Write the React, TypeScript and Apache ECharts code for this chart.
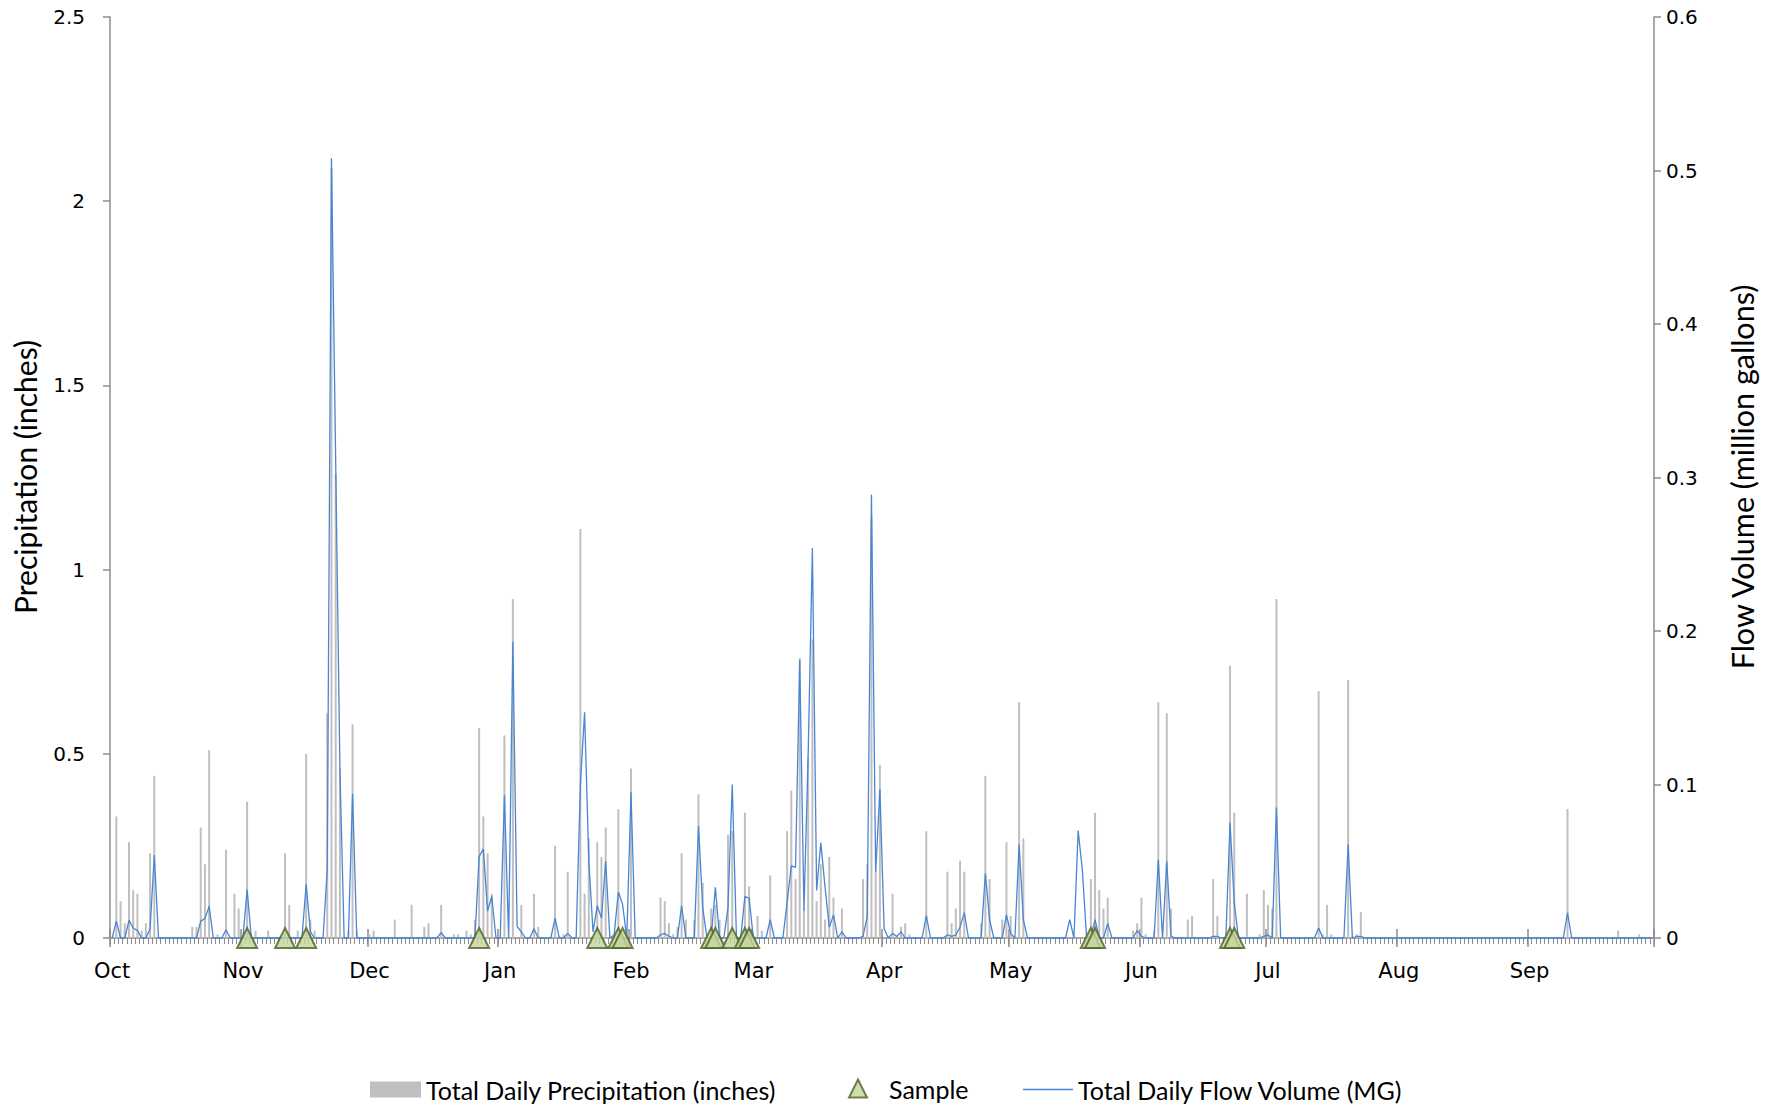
import React, { useEffect, useRef } from "react";
import * as echarts from "echarts";

// Water year, Oct 1 through Sep 30 (leap year: Feb has 29 days)
const MONTHS = ["Oct", "Nov", "Dec", "Jan", "Feb", "Mar", "Apr", "May", "Jun", "Jul", "Aug", "Sep"];
const MONTH_DAYS = [31, 30, 31, 31, 29, 31, 30, 31, 30, 31, 31, 30];

// Total daily precipitation (inches), one value per day of each month
const octPrecip = [0, 0.33, 0.10, 0.04, 0.26, 0.13, 0.12, 0.02, 0.04, 0.23, 0.44, 0, 0, 0, 0, 0, 0, 0, 0, 0.03, 0.03, 0.30, 0.20, 0.51, 0, 0.01, 0, 0.24, 0, 0.12, 0.08];
const novPrecip = [0, 0.37, 0, 0.02, 0, 0, 0.02, 0, 0, 0, 0.23, 0.09, 0, 0.02, 0, 0.50, 0.05, 0.02, 0, 0, 0.61, 2.09, 1.26, 0.46, 0, 0.02, 0.58, 0.02, 0, 0];
const decPrecip = [0.01, 0.02, 0, 0, 0, 0, 0.05, 0, 0, 0, 0.09, 0, 0, 0.03, 0.04, 0, 0, 0.09, 0, 0, 0.01, 0.01, 0, 0.02, 0.01, 0.05, 0.57, 0.33, 0.23, 0.12, 0];
const janPrecip = [0, 0.55, 0, 0.92, 0, 0.09, 0, 0, 0.12, 0.03, 0, 0, 0, 0.25, 0, 0.01, 0.18, 0, 0, 1.11, 0.12, 0.27, 0, 0.26, 0.22, 0.30, 0, 0, 0.35, 0, 0];
const febPrecip = [0.46, 0, 0, 0, 0, 0, 0, 0.11, 0.10, 0.04, 0.01, 0.03, 0.23, 0.05, 0, 0.05, 0.39, 0.15, 0, 0.08, 0.09, 0.05, 0, 0.28, 0.29, 0, 0, 0.34, 0.14];
const marPrecip = [0, 0.06, 0.02, 0, 0.17, 0, 0, 0, 0.29, 0.40, 0.16, 0.76, 0.08, 0.49, 0.81, 0.10, 0.20, 0.05, 0.22, 0.11, 0, 0.08, 0, 0, 0, 0, 0.16, 0.20, 1.14, 0.18, 0.47];
const aprPrecip = [0, 0, 0.12, 0, 0.03, 0.04, 0.01, 0, 0, 0, 0.29, 0, 0, 0, 0, 0.18, 0.04, 0.08, 0.21, 0.18, 0, 0, 0, 0.04, 0.44, 0.16, 0, 0, 0.05, 0.26];
const mayPrecip = [0.06, 0, 0.64, 0.27, 0, 0, 0, 0, 0, 0, 0, 0, 0, 0, 0, 0, 0, 0, 0, 0.16, 0.34, 0.13, 0.08, 0.11, 0, 0, 0, 0, 0, 0.02, 0.04];
const junPrecip = [0.11, 0.01, 0, 0.02, 0.64, 0, 0.61, 0.08, 0, 0, 0, 0.05, 0.06, 0, 0, 0, 0, 0.16, 0.06, 0, 0, 0.74, 0.34, 0, 0, 0.12, 0, 0, 0.01, 0.13];
const julPrecip = [0.09, 0.08, 0.92, 0, 0, 0, 0, 0, 0, 0, 0, 0, 0.67, 0.01, 0.09, 0.01, 0, 0, 0, 0.70, 0, 0.01, 0.07, 0, 0, 0, 0, 0, 0, 0, 0];
const augPrecip = [0, 0, 0, 0, 0, 0, 0, 0, 0, 0, 0, 0, 0, 0, 0, 0, 0, 0, 0, 0, 0, 0, 0, 0, 0, 0, 0, 0, 0, 0, 0];
const sepPrecip = [0, 0, 0, 0, 0, 0, 0, 0, 0, 0.35, 0, 0, 0, 0, 0, 0, 0, 0, 0, 0, 0, 0.02, 0, 0, 0, 0, 0.01, 0, 0, 0];

// Total daily flow volume (million gallons)
const octFlow = [0, 0.011, 0, 0, 0.0115, 0.0065, 0.0048, 0, 0, 0.006, 0.054, 0, 0, 0, 0, 0, 0, 0, 0, 0, 0, 0.011, 0.0126, 0.0206, 0, 0, 0, 0.0054, 0, 0, 0];
const novFlow = [0, 0.0315, 0, 0, 0, 0, 0, 0, 0, 0, 0, 0, 0, 0, 0, 0.035, 0.004, 0, 0, 0, 0.045, 0.508, 0.31, 0.11, 0, 0, 0.094, 0, 0, 0];
const decFlow = [0, 0, 0, 0, 0, 0, 0, 0, 0, 0, 0, 0, 0, 0, 0, 0, 0, 0.0035, 0, 0, 0, 0, 0, 0, 0, 0, 0.053, 0.058, 0.0175, 0.027, 0];
const janFlow = [0, 0.093, 0, 0.193, 0.0075, 0.004, 0, 0, 0.006, 0, 0, 0, 0, 0.013, 0, 0, 0.003, 0, 0, 0.10, 0.147, 0.05, 0.004, 0.021, 0.013, 0.05, 0, 0.002, 0.030, 0.022, 0];
const febFlow = [0.095, 0, 0, 0, 0, 0, 0, 0.002, 0.003, 0.001, 0, 0, 0.021, 0, 0, 0, 0.073, 0.02, 0, 0, 0.033, 0, 0, 0.02, 0.10, 0, 0, 0.027, 0.026];
const marFlow = [0, 0, 0, 0, 0.012, 0, 0, 0, 0.023, 0.047, 0.046, 0.181, 0.018, 0.12, 0.254, 0.031, 0.062, 0.033, 0.007, 0.015, 0, 0.004, 0, 0, 0, 0, 0.001, 0.014, 0.289, 0.043, 0.097];
const aprFlow = [0.006, 0, 0.003, 0.001, 0.004, 0, 0, 0, 0, 0, 0.0145, 0, 0, 0, 0, 0.002, 0.001, 0.002, 0.007, 0.0165, 0, 0, 0, 0, 0.042, 0.012, 0, 0, 0, 0.015];
const mayFlow = [0.003, 0, 0.061, 0.012, 0, 0, 0, 0, 0, 0, 0, 0, 0, 0, 0.012, 0, 0.070, 0.044, 0, 0.001, 0.012, 0, 0, 0.0095, 0, 0, 0, 0, 0, 0, 0.005];
const junFlow = [0.001, 0, 0, 0, 0.051, 0, 0.050, 0.001, 0, 0, 0, 0, 0, 0, 0, 0, 0, 0.001, 0.001, 0, 0, 0.075, 0.023, 0, 0, 0, 0, 0, 0, 0.001];
const julFlow = [0.002, 0, 0.085, 0, 0, 0, 0, 0, 0, 0, 0, 0, 0.0065, 0, 0, 0, 0, 0, 0, 0.061, 0, 0.001, 0.001, 0, 0, 0, 0, 0, 0, 0, 0];
const augFlow = [0, 0, 0, 0, 0, 0, 0, 0, 0, 0, 0, 0, 0, 0, 0, 0, 0, 0, 0, 0, 0, 0, 0, 0, 0, 0, 0, 0, 0, 0, 0];
const sepFlow = [0, 0, 0, 0, 0, 0, 0, 0, 0, 0.0163, 0, 0, 0, 0, 0, 0, 0, 0, 0, 0, 0, 0, 0, 0, 0, 0, 0, 0, 0, 0];

// Sampling dates
const sampleDates = [
  "Nov 2", "Nov 11", "Nov 16", "Dec 27", "Jan 24", "Jan 29", "Jan 30",
  "Feb 20", "Feb 21", "Feb 25", "Feb 28", "Feb 29", "May 20", "May 21", "Jun 22", "Jun 23",
];

const LEFT_TITLE = "Precipitation (inches)";
const RIGHT_TITLE = "Flow Volume (million gallons)";
const PRECIP_NAME = "Total Daily Precipitation (inches)";
const SAMPLE_NAME = "Sample";
const FLOW_NAME = "Total Daily Flow Volume (MG)";

const precipByMonth = [octPrecip, novPrecip, decPrecip, janPrecip, febPrecip, marPrecip, aprPrecip, mayPrecip, junPrecip, julPrecip, augPrecip, sepPrecip];
const flowByMonth = [octFlow, novFlow, decFlow, janFlow, febFlow, marFlow, aprFlow, mayFlow, junFlow, julFlow, augFlow, sepFlow];

const days: string[] = [];
const monthStart = new Set<number>();
MONTHS.forEach((m, mi) => {
  for (let d = 1; d <= MONTH_DAYS[mi]; d++) {
    if (d === 1) monthStart.add(days.length);
    days.push(`${m} ${d}`);
  }
});
const precip = precipByMonth.flat();
const flow = flowByMonth.flat();

const AXIS_GRAY = "#8c8c8c";
const FLOW_BLUE = "#4a85d3";
const TICK_FONT = "DejaVu Sans";
const TEXT_FONT = "Lato";
const isMonthStart = (i: number) => monthStart.has(i);

export default function App() {
  const ref = useRef<HTMLDivElement>(null);

  useEffect(() => {
    if (!ref.current) return;
    const chart = echarts.init(ref.current, undefined, { renderer: "svg" });

    const tickStyle = { color: AXIS_GRAY, width: 1 };
    const legendText = { fontFamily: TEXT_FONT, fontSize: 25, color: "#000" };
    const majorTickAxis = (inside: boolean) => ({
      type: "category",
      data: days,
      position: "bottom",
      boundaryGap: true,
      axisLine: { show: false },
      axisLabel: { show: false },
      splitLine: { show: false },
      axisTick: { show: true, inside, interval: isMonthStart, length: 9, lineStyle: { color: AXIS_GRAY, width: 1.5 } },
    });

    chart.setOption({
      animation: false,
      backgroundColor: "#ffffff",
      grid: { left: 110, right: 122, top: 17, bottom: 170 },
      legend: [
        {
          data: [{ name: PRECIP_NAME, icon: "rect" }], left: 370, top: 1077, padding: 0,
          itemWidth: 51, itemHeight: 16,
          textStyle: legendText,
        },
        {
          data: [{ name: SAMPLE_NAME, icon: "triangle" }], left: 848, top: 1076, padding: 0,
          itemWidth: 18, itemHeight: 18,
          textStyle: { ...legendText, padding: [0, 0, 0, 17] },
        },
        {
          data: [{ name: FLOW_NAME, icon: "rect" }], left: 1023, top: 1077, padding: 0,
          itemWidth: 50, itemHeight: 1.5,
          itemStyle: { color: FLOW_BLUE },
          textStyle: { ...legendText, padding: [0, 0, 3, 0] },
        },
      ],
      xAxis: [
        {
          type: "category",
          data: days,
          boundaryGap: true,
          axisLine: { show: true, lineStyle: { color: AXIS_GRAY, width: 1.5 } },
          axisTick: { show: true, interval: 0, length: 6, lineStyle: tickStyle },
          axisLabel: {
            interval: isMonthStart,
            formatter: (v: string) => v.split(" ")[0],
            color: "#000",
            fontFamily: TICK_FONT,
            fontSize: 21,
            margin: 22,
          },
          splitLine: { show: false },
        },
        majorTickAxis(false),
        majorTickAxis(true),
      ],
      yAxis: [
        {
          type: "value",
          min: 0,
          max: 2.5,
          interval: 0.5,
          axisLine: { show: true, lineStyle: { color: AXIS_GRAY, width: 1.5 } },
          axisTick: { show: true, length: 7, lineStyle: { color: AXIS_GRAY, width: 1.5 } },
          splitLine: { show: false },
          axisLabel: { color: "#000", fontFamily: TICK_FONT, fontSize: 20, margin: 25 },
        },
        {
          type: "value",
          position: "right",
          min: 0,
          max: 0.6,
          interval: 0.1,
          axisLine: { show: true, lineStyle: { color: AXIS_GRAY, width: 1.5 } },
          axisTick: { show: true, length: 7, lineStyle: { color: AXIS_GRAY, width: 1.5 } },
          splitLine: { show: false },
          axisLabel: {
            color: "#000", fontFamily: TICK_FONT, fontSize: 20, margin: 12,
            formatter: (v: number) => String(Math.round(v * 10) / 10),
          },
        },
      ],
      graphic: [
        {
          type: "text", x: 25, y: 477, rotation: Math.PI / 2,
          style: { text: LEFT_TITLE, fontFamily: TEXT_FONT, fontSize: 30, fill: "#000", textAlign: "center", textVerticalAlign: "middle" },
        },
        {
          type: "text", x: 1742, y: 477, rotation: Math.PI / 2,
          style: { text: RIGHT_TITLE, fontFamily: TEXT_FONT, fontSize: 30.5, fill: "#000", textAlign: "center", textVerticalAlign: "middle" },
        },
      ],
      series: [
        {
          name: PRECIP_NAME,
          type: "bar",
          data: precip,
          xAxisIndex: 0,
          yAxisIndex: 0,
          barWidth: 2,
          itemStyle: { color: "#bfbfbf" },
          z: 2,
        },
        {
          name: FLOW_NAME,
          type: "line",
          data: flow,
          xAxisIndex: 0,
          yAxisIndex: 1,
          symbol: "none",
          clip: false,
          lineStyle: { color: FLOW_BLUE, width: 1.3 },
          itemStyle: { color: FLOW_BLUE },
          z: 3,
        },
        {
          name: SAMPLE_NAME,
          type: "scatter",
          data: sampleDates.map((d) => [d, 0]),
          xAxisIndex: 0,
          yAxisIndex: 1,
          symbol: "triangle",
          symbolSize: 20,
          clip: false,
          itemStyle: { color: "#c3d69b", borderColor: "#4f6228", borderWidth: 2 },
          z: 4,
        },
      ],
    });

    return () => chart.dispose();
  }, []);

  return (
    <div
      ref={ref}
      style={{ position: "absolute", left: 0, top: 0, width: 1776, height: 1108, background: "#fff" }}
    />
  );
}
